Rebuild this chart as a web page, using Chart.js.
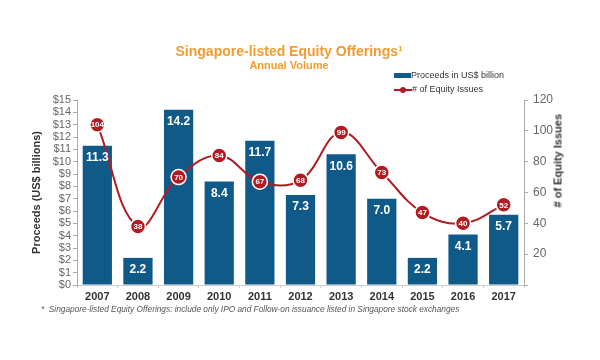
<!DOCTYPE html>
<html>
<head>
<meta charset="utf-8">
<script src="https://cdn.jsdelivr.net/npm/chart.js@4.4.1/dist/chart.umd.min.js"></script>
<style>
  body { margin: 0; background: #fff; font-family: "Liberation Sans", Arial, sans-serif; }
  #wrap { position: relative; width: 600px; height: 360px; overflow: hidden; }
  #chart { position: absolute; left: 0; top: 0; }
  .title { position: absolute; left: 0; width: 578px; text-align: center; color: #f39b2e; font-weight: bold; }
  #t1 { top: 43px; font-size: 14px; line-height: 16px; }
  #t1 sup { font-size: 8px; line-height: 0; vertical-align: 5px; }
  #t2 { top: 59px; font-size: 11px; line-height: 13px; }
  .legend { position: absolute; left: 394px; font-size: 9px; color: #333; line-height: 11px; }
  .legend span { display: inline-block; vertical-align: middle; }
  #rtitle { position: absolute; left: 513px; top: 156px; width: 90px; text-align: center; font-size: 11px; line-height: 13px;
            font-weight: bold; color: #333; transform: rotate(-90deg); white-space: nowrap; }
  #note { position: absolute; left: 41px; top: 304px; font-size: 8.3px; font-style: italic; color: #555; white-space: nowrap; }
</style>
</head>
<body>
<div id="wrap">
  <canvas id="chart" width="600" height="360"></canvas>
  <div class="title" id="t1">Singapore-listed Equity Offerings<sup>1</sup></div>
  <div class="title" id="t2">Annual Volume</div>
  <div class="legend" style="top:70px"><span style="width:17px;height:5px;background:#0f5a89"></span><span>Proceeds in US$ billion</span></div>
  <div class="legend" style="top:84px"><span style="position:relative;width:18px;height:8px">
      <span style="position:absolute;left:0;top:3px;width:18px;height:2px;background:#b01c22"></span>
      <span style="position:absolute;left:6px;top:1px;width:6px;height:6px;border-radius:50%;background:#b01c22"></span>
    </span><span># of Equity Issues</span></div>
  <div id="rtitle"># of Equity Issues</div>
  <div id="note">* &nbsp;Singapore-listed Equity Offerings: include only IPO and Follow-on issuance listed in Singapore stock exchanges</div>
</div>
<script>
const years = ['2007', '2008', '2009', '2010', '2011', '2012', '2013', '2014', '2015', '2016', '2017'];
const proceeds = [11.3, 2.2, 14.2, 8.4, 11.7, 7.3, 10.6, 7.0, 2.2, 4.1, 5.7];
const issues = [104, 38, 70, 84, 67, 68, 99, 73, 47, 40, 52];
const proceedsTicks = [0, 15, 1];   // min, max, step
const issuesTicks = [0, 120, 20];

const barBlue = '#0f5a89';
const lineRed = '#b01c22';
const fontFam = '"Liberation Sans", Arial, sans-serif';

// white value labels on bars and points
const valueLabels = {
    id: 'valueLabels',
    afterDatasetsDraw(chart) {
        const ctx = chart.ctx;
        ctx.save();
        ctx.fillStyle = '#fff';
        ctx.textAlign = 'center';
        ctx.textBaseline = 'middle';
        chart.getDatasetMeta(1).data.forEach((bar, i) => {
            ctx.font = 'bold 12px ' + fontFam;
            ctx.fillText(proceeds[i].toFixed(1), bar.x, bar.y + 12);
        });
        chart.getDatasetMeta(0).data.forEach((pt, i) => {
            ctx.font = 'bold 8px ' + fontFam;
            ctx.fillText(String(issues[i]), pt.x, pt.y + 0.5);
        });
        ctx.restore();
    }
};

const ctx = document.getElementById('chart').getContext('2d');
new Chart(ctx, {
    type: 'bar',
    data: {
        labels: years,
        datasets: [{
            type: 'line',
            label: '# of Equity Issues',
            data: issues,
            yAxisID: 'y1',
            order: 0,
            borderColor: lineRed,
            borderWidth: 2,
            tension: 0.4,
            pointRadius: 7.5,
            pointBackgroundColor: lineRed,
            pointBorderColor: '#fff',
            pointBorderWidth: 1.5
        }, {
            label: 'Proceeds in US$ billion',
            data: proceeds,
            yAxisID: 'y',
            order: 1,
            backgroundColor: barBlue,
            barPercentage: 0.72,
            categoryPercentage: 1
        }]
    },
    options: {
        responsive: false,
        animation: false,
        layout: { padding: { top: 100, left: 26, right: 0, bottom: 55 } },
        plugins: {
            legend: { display: false },
            tooltip: { enabled: false }
        },
        scales: {
            x: {
                grid: { drawOnChartArea: false, tickLength: 3, color: '#ccc' },
                border: { color: '#ccc' },
                ticks: { color: '#333', padding: 2, font: { family: fontFam, size: 11, weight: 'bold' } },
                afterFit: function(scale) { scale.height = 20; }
            },
            y: {
                position: 'left',
                min: proceedsTicks[0],
                max: proceedsTicks[1],
                grid: { drawOnChartArea: false, tickLength: 4, color: '#aaa' },
                border: { color: '#aaa' },
                ticks: {
                    stepSize: proceedsTicks[2],
                    autoSkip: false,
                    padding: 2,
                    color: '#666',
                    font: { family: fontFam, size: 11 },
                    callback: function(value) { return '$' + value; }
                },
                title: {
                    display: true,
                    text: 'Proceeds (US$ billions)',
                    color: '#333',
                    font: { family: fontFam, size: 11, weight: 'bold' }
                },
                afterFit: function(scale) { scale.width = 51; }
            },
            y1: {
                position: 'right',
                min: issuesTicks[0],
                max: issuesTicks[1],
                grid: { drawOnChartArea: false, tickLength: 4, color: '#aaa' },
                border: { color: '#aaa' },
                ticks: {
                    stepSize: issuesTicks[2],
                    autoSkip: false,
                    padding: 5,
                    color: '#666',
                    font: { family: fontFam, size: 12 },
                    callback: function(value) { return value === 0 ? '' : value; }
                },
                afterFit: function(scale) { scale.width = 76; }
            }
        }
    },
    plugins: [valueLabels]
});
</script>
</body>
</html>
